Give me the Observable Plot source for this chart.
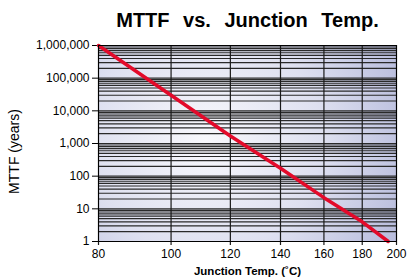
<!DOCTYPE html>
<html>
<head>
<meta charset="utf-8">
<script src="https://cdn.jsdelivr.net/npm/d3@7"></script>
<script src="https://cdn.jsdelivr.net/npm/@observablehq/plot@0.6"></script>
<style>
  html, body { margin: 0; padding: 0; background: white; }
</style>
</head>
<body>
<div id="chart"></div>
<script>
// Data
const temps = [80, 100, 120, 140, 160, 180, 195];           // Junction temp (°C)
const mttf  = [1000000, 30000, 1700, 175, 22, 4, 1];        // MTTF (years)
const xTicks = [80, 100, 120, 140, 160, 180, 200];
const yTicks = [1, 10, 100, 1000, 10000, 100000, 1000000];
const minorSteps = [1, 2, 3, 4, 5, 6, 7, 8, 9];

const data = temps.map((t, i) => ({t, v: mttf[i]}));
const minorY = yTicks.slice(0, -1).flatMap(d => minorSteps.map(k => k * d)).concat([yTicks[yTicks.length - 1]]);

const chart = Plot.plot({
  width: 407,
  height: 279,
  marginLeft: 98,
  marginRight: 11,
  marginTop: 45,
  marginBottom: 38,
  style: {fontFamily: "'Liberation Sans', Arial, sans-serif", fontSize: "12px", color: "black", background: "white"},
  x: {type: "log", domain: [80, 200], axis: null},
  y: {type: "log", domain: [1, 1000000], ticks: yTicks, tickFormat: d3.format(","), tickSize: 6, tickPadding: 3, label: null},
  marks: [
    Plot.frame({fill: "url(#bgGrad)"}),
    Plot.ruleY(minorY, {stroke: "#2a2a2a", strokeWidth: 1.15}),
    Plot.ruleX(xTicks, {stroke: "#1a1a1a", strokeWidth: 1.2, insetBottom: -4}),
    Plot.text(xTicks, {x: d => d, frameAnchor: "bottom", lineAnchor: "top", dy: 8, fontSize: 12}),
    Plot.line(data, {x: "t", y: "v", stroke: "#e30a2a", strokeWidth: 3.5}),
    Plot.frame({stroke: "black"}),
    Plot.text(["MTTF vs. Junction Temp."], {frameAnchor: "top", lineAnchor: "middle", dy: -25, fontSize: 20, fontWeight: "bold"}),
    Plot.text(["MTTF (years)"], {frameAnchor: "left", textAnchor: "middle", rotate: -90, dx: -84, dy: 8, fontSize: 14}),
    Plot.text(["Junction Temp. (˚C)"], {frameAnchor: "bottom", lineAnchor: "middle", dy: 30, fontSize: 11.5, fontWeight: "bold"})
  ]
});

const svg = d3.select(chart);
svg.selectAll("text").filter(function() { return this.textContent === "MTTF vs. Junction Temp."; })
  .style("word-spacing", "8px");
const grad = svg.insert("defs", ":first-child")
  .append("radialGradient")
  .attr("id", "bgGrad")
  .attr("gradientUnits", "userSpaceOnUse")
  .attr("cx", 205).attr("cy", 140).attr("r", 210);
grad.append("stop").attr("offset", "0%").attr("stop-color", "#f8f8fc");
grad.append("stop").attr("offset", "55%").attr("stop-color", "#dee0f0");
grad.append("stop").attr("offset", "100%").attr("stop-color", "#b9bddd");

document.getElementById("chart").appendChild(chart);
</script>
</body>
</html>
